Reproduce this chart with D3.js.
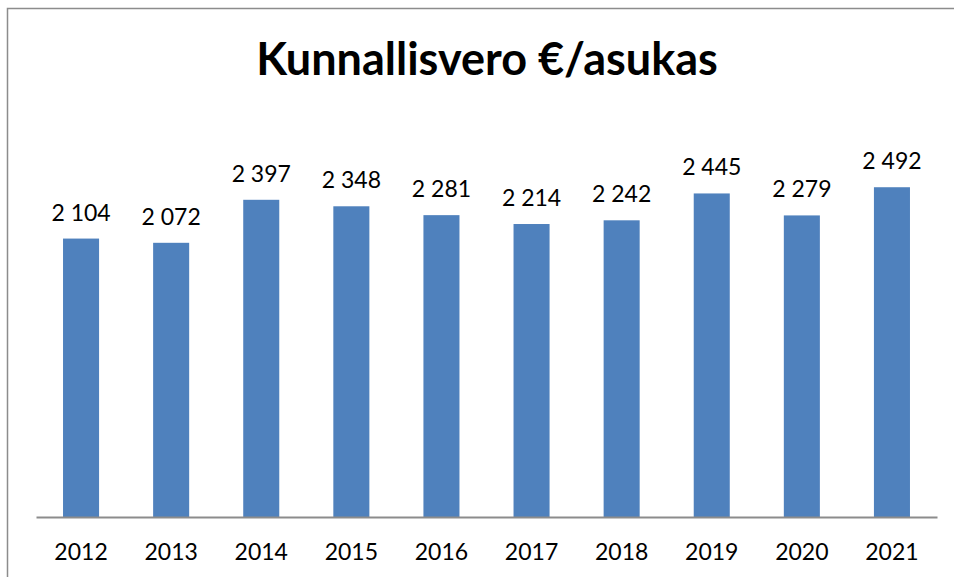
<!DOCTYPE html>
<html>
<head>
<meta charset="utf-8">
<script src="https://cdn.jsdelivr.net/npm/d3@7"></script>
<style>
  body { margin: 0; background: #fff; }
  svg text { font-family: Lato, "Open Sans", sans-serif; }
</style>
</head>
<body>
<div id="chart"></div>
<script>
const years = ["2012", "2013", "2014", "2015", "2016", "2017", "2018", "2019", "2020", "2021"];
const values = [2104, 2072, 2397, 2348, 2281, 2214, 2242, 2445, 2279, 2492];
const title = "Kunnallisvero €/asukas";

const width = 954, height = 577;
const plot = {left: 36, right: 937, top: 120, bottom: 517};

const svg = d3.select("#chart").append("svg")
    .attr("width", width)
    .attr("height", height);

// outer frame (right and bottom edges fall outside the picture)
svg.append("rect")
    .attr("x", 7.5).attr("y", 8.5)
    .attr("width", 960).attr("height", 600)
    .attr("fill", "none")
    .attr("stroke", "#8c8c8c")
    .attr("stroke-width", 1.5);

svg.append("text")
    .attr("x", 487).attr("y", 75)
    .attr("text-anchor", "middle")
    .attr("font-size", 45)
    .attr("font-weight", "bold")
    .text(title);

const x = d3.scaleBand()
    .domain(years)
    .range([plot.left, plot.right])
    .paddingInner(0.6)
    .paddingOuter(0.3);

const y = d3.scaleLinear()
    .domain([0, 3000])
    .range([plot.bottom, plot.top]);

const fmt = d3.formatLocale({decimal: ",", thousands: " ", grouping: [3], currency: ["", " €"]}).format(",d");

svg.append("g")
    .selectAll("rect")
    .data(values)
    .join("rect")
    .attr("x", (d, i) => x(years[i]))
    .attr("y", d => y(d))
    .attr("width", x.bandwidth())
    .attr("height", d => y(0) - y(d))
    .attr("fill", "#4f81bd");

svg.append("g")
    .selectAll("text")
    .data(values)
    .join("text")
    .attr("x", (d, i) => x(years[i]) + x.bandwidth() / 2)
    .attr("y", d => y(d) - 18)
    .attr("text-anchor", "middle")
    .attr("font-size", 23)
    .attr("fill", "#000")
    .text(d => fmt(d));

const xAxis = svg.append("g")
    .attr("transform", `translate(0,${plot.bottom})`)
    .call(d3.axisBottom(x).tickSize(0).tickPadding(27));
xAxis.select(".domain").attr("stroke", "#8c8c8c").attr("stroke-width", 2);
xAxis.selectAll("text")
    .attr("font-size", 23)
    .attr("fill", "#000")
    .attr("font-family", "Lato, sans-serif");
</script>
</body>
</html>
